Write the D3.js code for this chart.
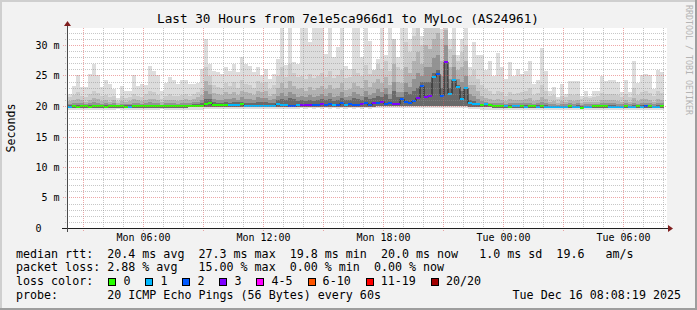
<!DOCTYPE html>
<html><head><meta charset="utf-8">
<script src="https://cdn.jsdelivr.net/npm/d3@7"></script>
<style>
html,body{margin:0;padding:0;background:#f2f2f2;}
svg{display:block;}
text{font-family:"DejaVu Sans Mono",monospace;white-space:pre;}
</style></head><body>
<svg id="chart" width="697" height="310"></svg>
<script>
// ---------------- data ----------------
const title = "Last 30 Hours from 7e1e5ca966d1 to MyLoc (AS24961)";
const yAxisTitle = "Seconds";
const watermark = "RRDTOOL / TOBI OETIKER";
const yTickValues = [0, 5, 10, 15, 20, 25, 30];
const yTickLabels = ["0   ", " 5 m", "10 m", "15 m", "20 m", "25 m", "30 m"];
const startTime = Date.UTC(2025, 11, 15, 2, 12);   // left edge of the graph
const spanHours = 30;
const stepMinutes = 12;                              // one smoke column
const columnOffsetMinutes = 3;

const median = [
 19.95,20.0,19.95,20.0,20.0,19.95,20.0,20.0,20.0,19.95,20.0,20.0,20.0,20.0,19.95,
 19.95,20.1,20.0,20.0,20.0,20.0,20.1,20.0,20.05,20.0,20.05,20.05,20.0,20.05,20.1,
 20.1,20.15,20.15,20.1,20.4,20.6,20.25,20.2,20.2,20.2,
 20.2,20.3,20.3,20.35,20.1,20.1,20.1,20.1,20.1,20.1,20.1,20.15,20.4,20.2,20.2,20.0,20.0,
 20.2,20.2,20.2,20.2,20.2,20.2,20.4,20.2,20.4,20.2,20.2,20.5,20.2,20.4,20.3,20.3,20.4,20.5,20.2,
 20.6,20.6,20.8,20.4,20.6,20.4,20.4,21.2,20.8,20.6,
 20.9,21.4,23.3,21.5,21.8,24.8,25.3,21.8,27.3,22.1,24.3,23.2,21.2,23.0,20.5,
 20.4,20.4,20.2,20.4,20.3,20.1,20.1,20.1,20.0,19.95,20.0,20.0,
 20.0,19.95,20.0,20.0,19.95,20.0,19.95,19.95,19.95,19.95,19.95,19.95,20.0,19.95,19.95,19.8,
 19.95,19.95,20.0,20.0,20.0,20.0,19.95,19.95,19.95,19.95,20.0,19.95,19.95,20.0,19.95,20.15,
 20.0,19.95,19.95,20.0
];
const lossCount = [
 1,0,0,0,0,0,0,0,0,0,0,0,0,0,0,
 1,0,0,0,0,0,0,0,0,0,0,0,0,0,0,
 0,0,0,0,0,0,0,0,0,0,
 1,1,1,0,1,1,1,1,1,1,1,1,1,1,1,2,2,
 1,3,3,3,2,2,3,2,2,1,2,2,1,2,2,2,3,2,2,
 3,2,3,2,2,3,3,2,2,2,
 2,3,2,3,3,1,2,2,3,1,1,1,1,1,1,
 1,1,0,1,0,0,0,0,1,0,1,1,
 0,1,0,0,1,0,1,1,1,1,1,1,0,1,1,0,
 1,1,0,0,0,0,1,1,1,1,0,1,1,0,1,2,
 0,1,1,0
];
// smoke: outer (max) to inner band tops, in ms
const smokeMax = [
 22.1,23.3,25.1,23.2,23.2,25.4,27.0,25.1,23.2,24.4,23.7,22.9,21.4,23.3,22.5,22.6,25.2,23.3,23.7,23.6,
 26.6,25.9,25.1,22.5,23.8,24.8,24.3,23.7,
 24.4,24.3,23.7,23.7,23.9,26.2,31.0,27.0,25.9,25.6,25.4,26.5,25.9,27.0,25.6,28.1,27.0,26.7,25.6,26.5,
 25.1,26.2,24.5,25.4,27.8,33.5,26.8,33.5,
 27.3,27.0,33.5,33.5,30.5,33.5,33.5,33.5,28.6,33.5,28.1,29.7,33.5,26.7,26.2,33.5,33.5,28.1,33.5,30.8,
 25.9,27.8,33.5,28.4,33.5,29.2,28.1,33.5,33.5,31.1,
 33.5,33.5,31.6,33.5,33.5,33.5,33.5,32.7,33.5,31.1,33.5,28.4,31.1,33.5,26.4,
 30.5,28.5,28.5,26.0,27.5,25.0,28.8,26.5,24.5,27.3,25.0,26.2,
 25.4,25.8,27.5,23.7,24.3,29.6,25.9,22.5,23.2,21.5,23.7,22.1,24.1,24.1,24.1,21.8,22.6,21.8,
 22.5,22.5,25.0,24.2,24.3,24.4,24.0,22.4,24.3,22.4,27.5,23.9,25.2,25.4,25.1,22.9,26.0,25.6
];
const smokeBand2 = [
 21.6,21.9,22.3,21.8,21.5,22.0,22.6,22.2,21.7,21.9,21.5,21.8,20.9,21.7,21.4,21.6,22.1,21.8,21.6,22.0,
 22.5,22.4,21.9,21.3,21.8,22.0,21.8,21.7,21.9,22.0,21.8,22.1,22.3,23.0,
 26.5,25.0,
 23.5,23.2,23.0,23.8,23.4,24.0,23.1,24.3,23.7,23.6,23.0,24.2,23.8,24.0,22.8,23.5,25.0,26.5,24.8,27.0,25.5,
 24.8,25.0,24.5,25.3,24.6,25.0,25.5,24.8,25.9,24.7,25.2,26.0,24.6,24.9,26.2,25.5,25.0,26.8,25.3,26.0,
 27.0,26.2,27.5,25.8,31.0,26.5,26.0,30.5,29.0,
 31.5,33.5,30.0,33.0,33.5,33.5,33.5,31.0,33.5,29.5,31.0,27.5,29.0,30.0,25.0,
 26.0,24.5,23.5,22.8,22.5,22.0,22.6,22.3,21.8,22.4,22.0,22.2,
 22.3,22.5,23.0,21.9,22.2,23.5,22.5,21.7,21.9,21.2,21.8,21.5,22.0,21.9,22.1,21.3,21.6,21.4,
 21.6,21.7,22.2,22.0,22.1,22.0,21.9,21.6,22.1,21.6,23.0,21.9,22.3,22.6,22.2,21.7,22.5,22.2
];
const smokeBand3 = [
 20.9,21.0,21.3,21.0,20.8,21.1,21.4,21.2,20.9,21.0,20.8,21.0,20.6,20.9,20.8,20.9,21.2,21.0,20.9,21.1,
 21.3,21.3,21.0,20.7,21.0,21.1,21.0,20.9,21.1,21.2,21.0,21.3,21.5,21.9,
 24.2,23.5,
 22.2,22.0,21.9,22.3,22.1,22.4,21.9,22.6,22.3,22.2,21.9,22.5,22.4,22.5,21.8,22.1,23.0,23.8,23.0,24.2,23.4,
 22.8,23.0,22.6,23.2,22.7,23.0,23.4,22.9,23.6,22.8,23.1,23.8,22.7,22.9,23.9,23.4,23.1,24.3,23.2,23.8,
 24.5,23.9,24.8,23.5,27.0,24.0,23.8,26.5,25.5,
 27.5,29.0,27.0,30.0,29.5,31.0,32.0,27.5,32.5,26.5,28.5,26.0,26.5,27.5,23.5,
 23.5,22.5,21.8,21.4,21.3,21.0,21.2,21.1,20.9,21.2,21.0,21.1,
 21.1,21.2,21.4,20.9,21.0,21.6,21.2,20.8,20.9,20.6,20.9,20.7,21.0,20.9,21.0,20.6,20.8,20.7,
 20.8,20.8,21.0,21.0,21.0,21.0,20.9,20.8,21.0,20.8,21.4,20.9,21.2,21.3,21.1,20.8,21.2,21.1
];
const smokeBand4 = [
 20.4,20.5,20.6,20.5,20.4,20.5,20.7,20.6,20.4,20.5,20.4,20.5,20.3,20.4,20.4,20.4,20.6,20.5,20.4,20.5,
 20.7,20.6,20.5,20.3,20.5,20.5,20.5,20.4,20.6,20.6,20.5,20.7,20.8,21.0,
 22.6,22.0,
 21.2,21.1,21.0,21.3,21.2,21.4,21.1,21.5,21.3,21.2,21.0,21.5,21.4,21.4,21.0,21.2,21.7,22.2,21.8,22.4,22.0,
 21.6,21.8,21.5,21.9,21.6,21.7,22.0,21.7,22.2,21.6,21.8,22.3,21.6,21.7,22.4,22.0,21.8,22.6,21.9,22.2,
 22.8,22.3,23.0,22.0,24.0,22.4,22.4,23.8,23.2,
 24.5,25.5,25.0,26.5,26.5,28.0,28.5,25.0,30.0,24.5,26.5,24.5,24.0,25.0,22.0,
 21.8,21.2,20.9,20.7,20.6,20.5,20.6,20.5,20.4,20.6,20.5,20.5,
 20.5,20.5,20.6,20.4,20.5,20.7,20.5,20.4,20.4,20.3,20.4,20.4,20.5,20.4,20.5,20.3,20.4,20.4,
 20.4,20.4,20.5,20.5,20.5,20.5,20.4,20.4,20.5,20.4,20.6,20.4,20.5,20.6,20.5,20.4,20.5,20.5
];
const smokeBand5 = [
 20.2,20.25,20.3,20.25,20.2,20.25,20.3,20.3,20.2,20.25,20.2,20.25,20.15,20.2,20.2,20.2,20.3,20.25,20.2,20.25,
 20.3,20.3,20.25,20.15,20.25,20.25,20.25,20.2,20.3,20.3,20.25,20.35,20.4,20.5,
 21.3,21.2,
 20.7,20.6,20.5,20.7,20.6,20.8,20.7,20.8,20.6,20.6,20.5,20.8,20.8,20.8,20.5,20.6,21.0,21.3,21.0,21.4,21.2,
 20.9,21.0,20.9,21.1,20.9,21.0,21.2,21.0,21.3,20.9,21.0,21.4,21.0,21.0,21.4,21.2,21.1,21.6,21.2,21.4,
 21.8,21.5,22.0,21.3,22.5,21.6,21.6,22.4,22.0,
 22.5,23.0,24.0,24.0,24.0,25.5,26.0,23.0,27.5,23.0,24.5,23.5,22.5,23.0,21.0,
 20.9,20.6,20.4,20.4,20.3,20.2,20.3,20.2,20.2,20.3,20.2,20.2,
 20.2,20.2,20.25,20.15,20.2,20.3,20.2,20.15,20.15,20.1,20.15,20.15,20.2,20.15,20.2,20.05,20.15,20.15,
 20.2,20.2,20.2,20.2,20.2,20.2,20.15,20.15,20.2,20.15,20.25,20.2,20.2,20.25,20.2,20.15,20.2,20.2
];
const smokeMin = [
 19.5,19.5,19.4,19.5,19.5,19.5,19.4,19.5,19.5,19.5,19.5,19.5,19.6,19.5,19.5,19.5,19.4,19.5,19.5,19.5,
 19.4,19.5,19.5,19.6,19.5,19.5,19.5,19.5,19.5,19.5,19.5,19.5,19.5,19.5,
 19.6,19.6,
 19.6,19.6,19.6,19.6,19.6,19.6,19.6,19.6,19.6,19.6,19.6,19.6,19.6,19.6,19.6,19.6,19.6,19.6,19.6,19.6,19.6,
 19.6,19.7,19.6,19.7,19.6,19.7,19.6,19.7,19.6,19.7,19.6,19.7,19.6,19.7,19.6,19.7,19.6,19.7,19.6,19.7,
 19.7,19.7,19.7,19.7,19.7,19.7,19.7,19.7,19.7,
 19.7,19.7,19.7,19.7,19.7,19.7,19.7,19.7,19.7,19.7,19.7,19.7,19.7,19.7,19.6,
 19.6,19.6,19.5,19.5,19.5,19.5,19.5,19.5,19.5,19.5,19.5,19.5,
 19.5,19.5,19.5,19.5,19.5,19.5,19.5,19.5,19.5,19.5,19.5,19.5,19.5,19.5,19.5,19.4,19.5,19.5,
 19.5,19.5,19.5,19.5,19.5,19.5,19.5,19.5,19.5,19.5,19.5,19.5,19.5,19.5,19.5,19.5,19.5,19.5
];
const smokeInnerMin = [
 19.8,19.8,19.8,19.8,19.8,19.8,19.8,19.8,19.8,19.8,19.8,19.8,19.8,19.8,19.8,19.8,19.8,19.8,19.8,19.8,
 19.8,19.8,19.8,19.8,19.8,19.8,19.8,19.8,19.8,19.8,19.85,19.85,19.85,19.85,
 19.9,19.9,
 19.9,19.9,19.9,19.9,19.9,19.9,19.9,19.9,19.9,19.9,19.9,19.9,19.9,19.9,19.9,19.9,19.9,19.9,19.9,19.9,19.9,
 19.95,19.95,19.95,19.95,19.95,19.95,19.95,19.95,19.95,19.95,19.95,19.95,19.95,19.95,19.95,19.95,19.95,19.95,19.95,19.95,
 20.0,20.0,20.0,20.0,20.0,20.0,20.0,20.0,20.0,
 20.0,20.1,20.1,20.1,20.1,20.1,20.1,20.1,20.1,20.1,20.1,20.0,20.0,20.0,19.95,
 19.9,19.9,19.85,19.85,19.85,19.8,19.8,19.8,19.8,19.8,19.8,19.8,
 19.8,19.8,19.8,19.8,19.8,19.8,19.8,19.8,19.8,19.8,19.8,19.8,19.8,19.8,19.8,19.7,19.8,19.8,
 19.8,19.8,19.8,19.8,19.8,19.8,19.8,19.8,19.8,19.8,19.8,19.8,19.8,19.8,19.8,19.8,19.8,19.8
];
const smokeColors = ["#dddddd", "#cbcbcb", "#b2b2b2", "#939393", "#6a6a6a"];

const lossLabels = ["0", "1", "2", "3", "4-5", "6-10", "11-19", "20/20"];
const lossColors = ["#26ff00", "#00b8ff", "#0059ff", "#7e00ff", "#ff00ff", "#ff5500", "#ff0000", "#a10000"];
const lossUpper = [0, 1, 2, 3, 5, 10, 19, 20];

const legendLine1 = "median rtt:  20.4 ms avg  27.3 ms max  19.8 ms min  20.0 ms now   1.0 ms sd  19.6   am/s";
const legendLine2 = "packet loss: 2.88 % avg   15.00 % max  0.00 % min  0.00 % now";
const legendLine3 = "loss color:";
const legendLine4 = "probe:       20 ICMP Echo Pings (56 Bytes) every 60s";
const timestamp = "Tue Dec 16 08:08:19 2025";

// ---------------- drawing ----------------
const W = 697, H = 310;
const svg = d3.select("#chart");
const L = 67, R = 667, T = 28, B = 228;

svg.append("rect").attr("width", W).attr("height", H).attr("fill", "#f2f2f2");
svg.append("rect").attr("x", 0).attr("y", 0).attr("width", W).attr("height", 2).attr("fill", "#cfcfcf");
svg.append("rect").attr("x", 0).attr("y", 0).attr("width", 2).attr("height", H).attr("fill", "#cfcfcf");
svg.append("rect").attr("x", 0).attr("y", H - 2).attr("width", W).attr("height", 2).attr("fill", "#9e9e9e");
svg.append("rect").attr("x", W - 2).attr("y", 0).attr("width", 2).attr("height", H).attr("fill", "#9e9e9e");

svg.append("rect").attr("x", L).attr("y", T).attr("width", R - L).attr("height", B - T).attr("fill", "#ffffff");

const t0 = new Date(startTime);
const t1 = new Date(startTime + spanHours * 3600e3);
const x = d3.scaleUtc().domain([t0, t1]).range([L, R]);
const y = d3.scaleLinear().domain([0, 6000 / 183]).range([B + 0.5, T + 0.5]);

const cols = median.map((m, i) => {
  const s = new Date(startTime + (columnOffsetMinutes + i * stepMinutes) * 60e3);
  const e = new Date(s.getTime() + stepMinutes * 60e3);
  return {i, s, e, m, loss: lossCount[i]};
});

svg.append("clipPath").attr("id", "pc").append("rect")
  .attr("x", L).attr("y", T).attr("width", R - L).attr("height", B - T);
const g = svg.append("g").attr("clip-path", "url(#pc)");

const bandTops = [smokeMax, smokeBand2, smokeBand3, smokeBand4, smokeBand5];
bandTops.forEach((arr, k) => {
  const bottoms = k === 0 ? smokeMin : smokeInnerMin;
  g.append("g").attr("shape-rendering", "crispEdges").selectAll("rect").data(cols).join("rect")
    .attr("x", d => x(d.s))
    .attr("width", d => x(d.e) - x(d.s))
    .attr("y", d => Math.round(y(arr[d.i])))
    .attr("height", d => Math.max(0, Math.round(y(bottoms[d.i])) - Math.round(y(arr[d.i]))))
    .attr("fill", smokeColors[k]);
});

// grid
const gridG = svg.append("g").attr("shape-rendering", "crispEdges");
const hours = d3.utcHour.range(t0, t1).filter(h => x(h) > L);
hours.forEach(h => {
  const major = h.getUTCHours() % 3 === 0;
  const xx = Math.round(x(h)) + 0.5;
  gridG.append("line").attr("x1", xx).attr("x2", xx).attr("y1", T).attr("y2", major ? B + 3 : B + 2)
    .attr("stroke", major ? "rgba(222,79,79,0.5)" : "rgba(143,143,143,0.5)")
    .attr("stroke-dasharray", "1,1");
});
d3.range(1, 33).forEach(v => {
  const major = v % 5 === 0;
  const yy = Math.floor(y(v)) + 0.5;
  gridG.append("line").attr("x1", major ? L - 4 : L - 2).attr("x2", R).attr("y1", yy).attr("y2", yy)
    .attr("stroke", major ? "rgba(222,79,79,0.5)" : "rgba(143,143,143,0.5)")
    .attr("stroke-dasharray", "1,1");
});

// median step line
const pts = cols.map(d => [x(d.s), y(d.m)]);
pts.push([x(cols[cols.length - 1].e), y(cols[cols.length - 1].m)]);
g.append("path").attr("d", d3.line().curve(d3.curveStepAfter)(pts))
  .attr("fill", "none").attr("stroke", "#202020").attr("stroke-width", 1);
const lossIdx = n => lossUpper.findIndex(u => n <= u);
g.append("g").attr("shape-rendering", "crispEdges").selectAll("rect").data(cols).join("rect")
  .attr("x", d => x(d.s))
  .attr("width", d => x(d.e) - x(d.s))
  .attr("y", d => Math.round(y(d.m)) - 1)
  .attr("height", 2)
  .attr("fill", d => lossColors[lossIdx(d.loss)]);

// axes
svg.append("line").attr("x1", L - 5).attr("x2", R + 1).attr("y1", B + 0.5).attr("y2", B + 0.5)
  .attr("stroke", "#1f1f1f").attr("shape-rendering", "crispEdges");
svg.append("line").attr("x1", L + 0.5).attr("x2", L + 0.5).attr("y1", T - 2).attr("y2", B + 4)
  .attr("stroke", "#4a4a4a").attr("shape-rendering", "crispEdges");
svg.append("path").attr("d", `M${L - 3},${T - 2}L${L + 4},${T - 2}L${L + 0.5},${T - 7}Z`).attr("fill", "#801f1f");
svg.append("path").attr("d", `M${R + 1},${B - 3}L${R + 1},${B + 4}L${R + 6},${B + 0.5}Z`).attr("fill", "#801f1f");

// y tick labels
svg.append("g").selectAll("text").data(yTickValues).join("text")
  .attr("xml:space", "preserve")
  .attr("x", L - 7.5).attr("y", v => Math.floor(y(v)) + 4)
  .attr("text-anchor", "end").attr("font-size", "10px").attr("fill", "#000")
  .text((v, i) => yTickLabels[i]);

// x tick labels (every 6 hours)
const fmt = d3.utcFormat("%a %H:%M");
const labelHours = hours.filter(h => h.getUTCHours() % 6 === 0);
svg.append("g").selectAll("text").data(labelHours).join("text")
  .attr("x", h => Math.round(x(h)) + 0.5).attr("y", 241)
  .attr("text-anchor", "middle").attr("font-size", "10px").attr("fill", "#000")
  .text(h => fmt(h));

// titles
svg.append("text").attr("x", 348).attr("y", 23).attr("text-anchor", "middle")
  .attr("font-size", "12.7px").attr("fill", "#000").text(title);
svg.append("text").attr("transform", "translate(15,128) rotate(-90)").attr("text-anchor", "middle")
  .attr("font-size", "11.6px").attr("fill", "#000").text(yAxisTitle);
svg.append("text").attr("transform", "translate(686,5) rotate(90)").attr("text-anchor", "start")
  .attr("font-size", "8.3px").attr("fill", "#b4b4b4").text(watermark);

// legend
const lg = svg.append("g").attr("font-size", "11.67px").attr("fill", "#000");
[[legendLine1, 257.5], [legendLine2, 271.2], [legendLine3, 284.9], [legendLine4, 298.6]].forEach(([t, yy]) => {
  lg.append("text").attr("xml:space", "preserve").attr("x", 16).attr("y", yy).text(t);
});
lg.append("text").attr("x", 681).attr("y", 298.6).attr("text-anchor", "end").text(timestamp);
let bx = 108.3;
lossLabels.forEach((lab, k) => {
  lg.append("rect").attr("x", Math.round(bx) + 0.5).attr("y", 278.5).attr("width", 7).attr("height", 7)
    .attr("fill", lossColors[k]).attr("stroke", "#000").attr("stroke-width", 1);
  lg.append("text").attr("x", bx + 15.1).attr("y", 284.9).text(lab);
  bx += 30 + 7.03 * lab.length;
});
</script>
</body></html>
